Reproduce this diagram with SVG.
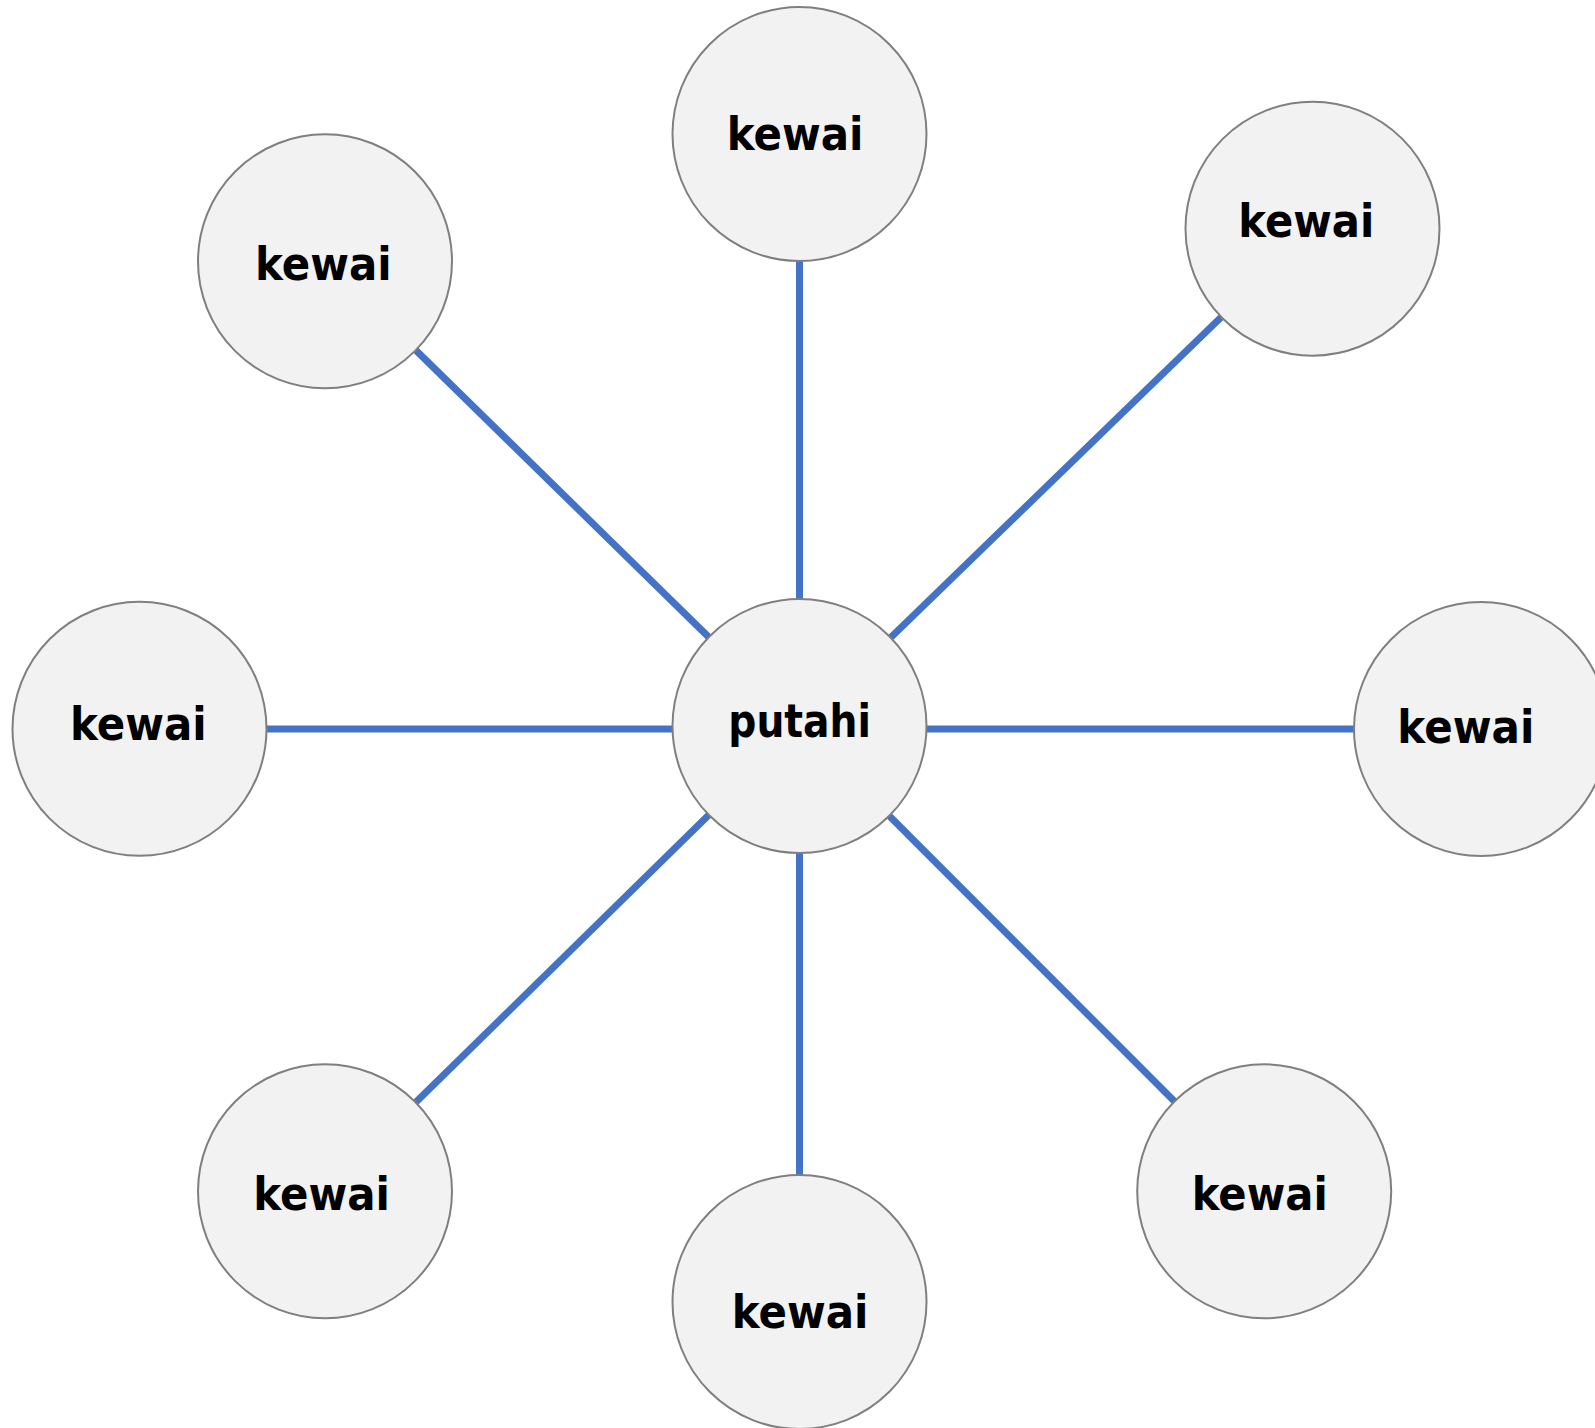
<svg xmlns="http://www.w3.org/2000/svg" width="1595" height="1428" viewBox="0 0 1595 1428">
<style>
.n{fill:#F2F2F2;stroke:#7F7F7F;stroke-width:2}
.t{font-family:"DejaVu Sans","Liberation Sans",sans-serif;font-weight:bold;font-size:46px;fill:#000}
.c{stroke:#4472C4;stroke-width:7;fill:none}
</style>
<rect width="1595" height="1428" fill="#fff"/>
<g id="connectors">
<line class="c" x1="799.5" y1="726" x2="799.5" y2="134"/>
<line class="c" x1="799.5" y1="726" x2="325" y2="261.3"/>
<line class="c" x1="799.5" y1="726" x2="1312.5" y2="228.7"/>
<line class="c" x1="799.5" y1="729" x2="139.5" y2="729"/>
<line class="c" x1="799.5" y1="729" x2="1481" y2="729"/>
<line class="c" x1="799.5" y1="726" x2="325" y2="1191.3"/>
<line class="c" x1="799.5" y1="726" x2="799.5" y2="1302"/>
<line class="c" x1="799.5" y1="726" x2="1270" y2="1197"/>
</g>
<g id="node-top"><circle class="n" cx="799.5" cy="134" r="127"/><text class="t" x="726.7" y="150" textLength="136.7" lengthAdjust="spacingAndGlyphs">kewai</text></g>
<g id="node-topleft"><circle class="n" cx="325" cy="261.3" r="127"/><text class="t" x="255" y="280" textLength="136.7" lengthAdjust="spacingAndGlyphs">kewai</text></g>
<g id="node-topright"><circle class="n" cx="1312.5" cy="228.7" r="127"/><text class="t" x="1238.3" y="236.7" textLength="136" lengthAdjust="spacingAndGlyphs">kewai</text></g>
<g id="node-left"><circle class="n" cx="139.5" cy="728.8" r="127"/><text class="t" x="70" y="740" textLength="136.7" lengthAdjust="spacingAndGlyphs">kewai</text></g>
<g id="node-right"><circle class="n" cx="1481" cy="729" r="127"/><text class="t" x="1397.3" y="743.3" textLength="137" lengthAdjust="spacingAndGlyphs">kewai</text></g>
<g id="node-bottomleft"><circle class="n" cx="325" cy="1191.3" r="127"/><text class="t" x="253.3" y="1210" textLength="136.7" lengthAdjust="spacingAndGlyphs">kewai</text></g>
<g id="node-bottom"><circle class="n" cx="799.5" cy="1302" r="127"/><text class="t" x="731.7" y="1327.7" textLength="136.7" lengthAdjust="spacingAndGlyphs">kewai</text></g>
<g id="node-bottomright"><circle class="n" cx="1264.2" cy="1191.3" r="127"/><text class="t" x="1191.7" y="1210" textLength="136" lengthAdjust="spacingAndGlyphs">kewai</text></g>
<g id="node-center"><circle class="n" cx="799.5" cy="726" r="127"/><text class="t" x="728.3" y="736.7" textLength="142.7" lengthAdjust="spacingAndGlyphs">putahi</text></g>
</svg>
